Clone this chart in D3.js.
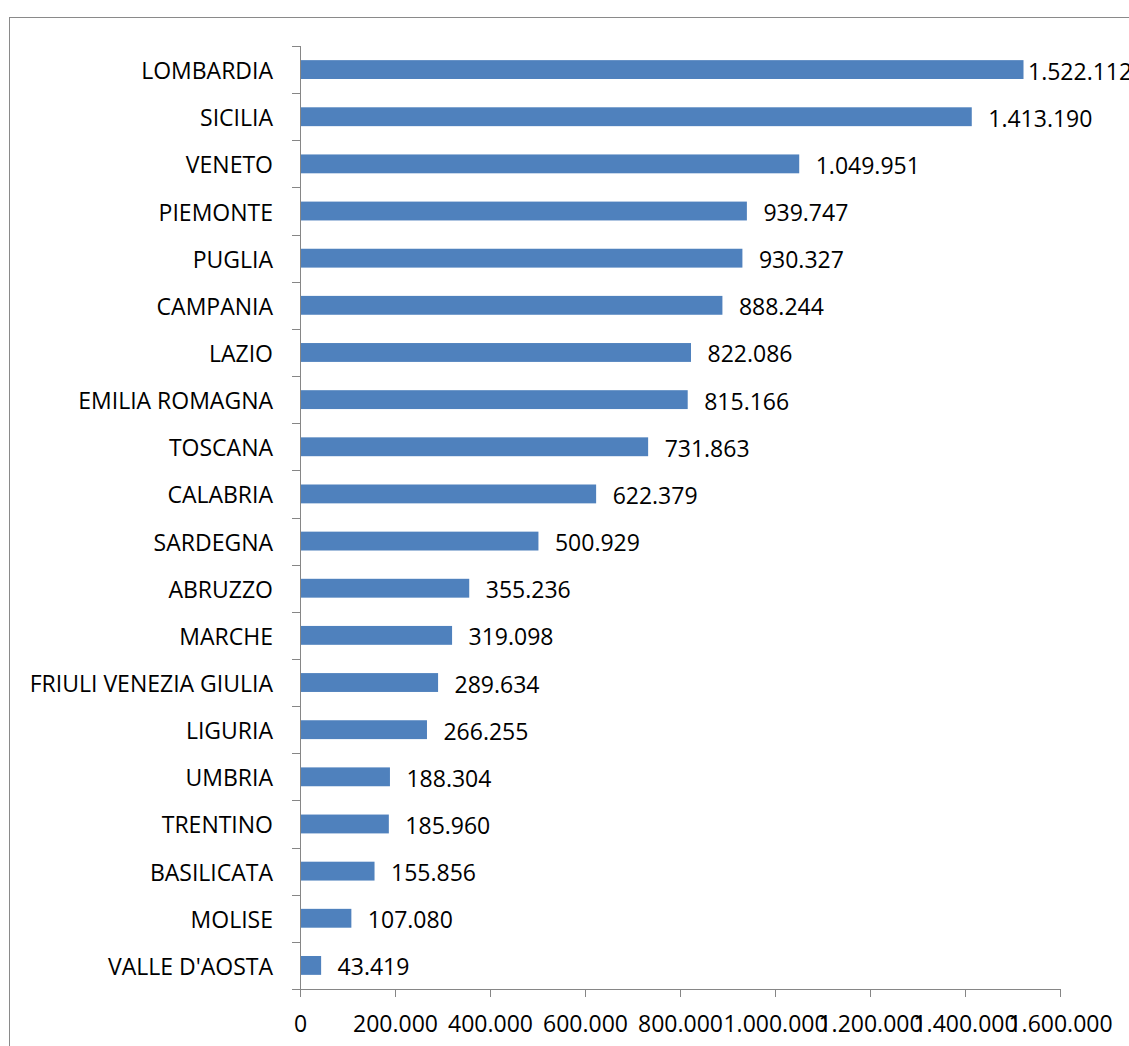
<!DOCTYPE html>
<html>
<head>
<meta charset="utf-8">
<script src="https://cdn.jsdelivr.net/npm/d3@7/dist/d3.min.js"></script>
<style>
  html, body { margin: 0; padding: 0; background: #fff; }
  svg { display: block; font-family: "Open Sans", sans-serif; }
</style>
</head>
<body>
<svg id="chart" width="1129" height="1046"></svg>
<script>
// Regions, ordered from largest to smallest value
const regions = [
  "LOMBARDIA", "SICILIA", "VENETO", "PIEMONTE", "PUGLIA", "CAMPANIA", "LAZIO",
  "EMILIA ROMAGNA", "TOSCANA", "CALABRIA", "SARDEGNA", "ABRUZZO", "MARCHE",
  "FRIULI VENEZIA GIULIA", "LIGURIA", "UMBRIA", "TRENTINO", "BASILICATA",
  "MOLISE", "VALLE D'AOSTA"
];
const values = [
  1522112, 1413190, 1049951, 939747, 930327, 888244, 822086,
  815166, 731863, 622379, 500929, 355236, 319098,
  289634, 266255, 188304, 185960, 155856,
  107080, 43419
];
const xTicks = [0, 200000, 400000, 600000, 800000, 1000000, 1200000, 1400000, 1600000];

const W = 1129, H = 1046;
const svg = d3.select("#chart");
const axisColor = "#868686";
const barColor = "#4F81BD";
const fontSize = 23;

// Italian number format: dot as thousands separator
const it = d3.formatLocale({ decimal: ",", thousands: ".", grouping: [3], currency: ["", " €"] });
const fmt = it.format(",d");

// Chart frame
svg.append("rect")
  .attr("x", 9.5).attr("y", 17.5)
  .attr("width", W + 20).attr("height", H + 20)
  .attr("fill", "#fff")
  .attr("stroke", "#8a8a8a").attr("stroke-width", 1);

const plotLeft = 300, plotRight = 1060, plotTop = 46, plotBottom = 989;

const x = d3.scaleLinear().domain([0, 1600000]).range([plotLeft, plotRight]);
const y = d3.scaleBand().domain(regions).range([plotTop, plotBottom])
  .paddingInner(0.6).paddingOuter(0.3);
const step = y.step();

const data = regions.map((r, i) => ({ region: r, value: values[i] }));

// Bars
svg.append("g").selectAll("rect").data(data).join("rect")
  .attr("x", x(0) + 0.5)
  .attr("y", d => y(d.region))
  .attr("width", d => x(d.value) - x(0))
  .attr("height", y.bandwidth())
  .attr("fill", barColor);

// Category axis: vertical line with ticks on category boundaries
const yAxis = svg.append("g");
yAxis.append("line")
  .attr("x1", plotLeft + 0.5).attr("x2", plotLeft + 0.5)
  .attr("y1", plotTop).attr("y2", plotBottom)
  .attr("stroke", axisColor);
yAxis.selectAll("line.tick").data(d3.range(regions.length + 1)).join("line")
  .attr("class", "tick")
  .attr("x1", plotLeft - 8).attr("x2", plotLeft + 0.5)
  .attr("y1", i => Math.round(plotTop + i * step) + 0.5)
  .attr("y2", i => Math.round(plotTop + i * step) + 0.5)
  .attr("stroke", axisColor);

// Category labels
svg.append("g").selectAll("text").data(data).join("text")
  .attr("x", plotLeft - 27)
  .attr("y", d => y(d.region) + y.bandwidth() / 2 + 9.5)
  .attr("text-anchor", "end")
  .attr("font-size", fontSize)
  .attr("fill", "#000")
  .text(d => d.region);

// Value labels beyond bar ends, kept inside the frame where possible
svg.append("g").selectAll("text").data(data).join("text")
  .attr("x", d => Math.min(x(d.value) + 17, W - 101))
  .attr("y", d => y(d.region) + y.bandwidth() / 2 + 10)
  .attr("font-size", fontSize)
  .attr("fill", "#000")
  .text(d => fmt(d.value));

// Value axis
const xAxis = svg.append("g")
  .attr("transform", `translate(0,${plotBottom})`)
  .call(d3.axisBottom(x).tickValues(xTicks).tickSize(8).tickSizeOuter(0).tickFormat(fmt));
xAxis.select(".domain").attr("stroke", axisColor);
xAxis.selectAll(".tick line").attr("stroke", axisColor);
xAxis.selectAll(".tick text")
  .attr("font-size", fontSize)
  .attr("font-family", "'Open Sans', sans-serif")
  .attr("fill", "#000")
  .attr("dy", null)
  .attr("y", 43);
</script>
</body>
</html>
